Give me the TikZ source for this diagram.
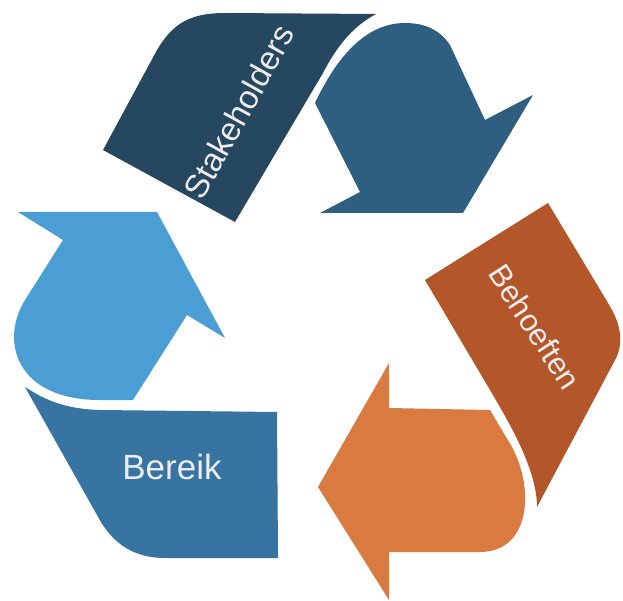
\documentclass[tikz,border=0pt]{standalone}
\usepackage{fontspec}
\setmainfont{Liberation Sans}
\definecolor{staketail}{HTML}{25475F}
\definecolor{stakehead}{HTML}{2E5F80}
\definecolor{needtail}{HTML}{B3572A}
\definecolor{needhead}{HTML}{D97A40}
\definecolor{scopetail}{HTML}{3774A2}
\definecolor{scopehead}{HTML}{4A9ED3}
\tikzset{every path/.style={draw=none}, blocktext/.style={text=white!93!black, inner sep=0pt}}

\begin{document}
\begin{tikzpicture}[x=1pt,y=-1pt]
   \useasboundingbox (0,0) rectangle (623,601);
   % Stakeholders
   \fill[staketail] (103,150) -- (157,50) .. controls (172,25) and (188,13) .. (225,13) -- (376,14) .. controls (350,28) and (335,50) .. (323,73) -- (235,222) -- cycle;
   \fill[stakehead] (360,192) -- (315,103) .. controls (340,50) and (370,23) .. (405,23) .. controls (425,23) and (440,30) .. (450,45) -- (485,120) -- (533,95) -- (463,213) -- (320,213) -- cycle;
   % Behoeften
   \fill[needtail] (425,280) -- (548,203) -- (608,303) .. controls (622,325) and (624,345) .. (614,362) -- (537,507) .. controls (537,470) and (510,424) .. (490,390) -- cycle;
   \fill[needhead] (318,487) -- (389,363) -- (389,408) -- (490,410) -- (512,447) .. controls (535,490) and (530,552) .. (480,552) -- (389,552) -- (389,600) -- cycle;
   % Bereik
   \fill[scopetail] (25,387) .. controls (45,400) and (65,409) .. (100,410) -- (277,412) -- (278,558) -- (165,558) .. controls (130,558) and (110,540) .. (97,515) -- cycle;
   \fill[scopehead] (18,212) -- (157,212) -- (225,338) -- (187,315) -- (133,400) -- (100,400) .. controls (15,400) and (0,340) .. (25,300) -- (63,240) -- cycle;
   % labels
   \node[blocktext, rotate=61, font=\fontsize{33}{33}\selectfont] (stake) at (239,112) {Stakeholders};
   \node[blocktext, rotate=-57, font=\fontsize{31}{31}\selectfont] (need) at (535,327) {Behoeften};
   \node[blocktext, font=\fontsize{35}{35}\selectfont] (scope) at (172,467) {Bereik};
\end{tikzpicture}
\end{document}
